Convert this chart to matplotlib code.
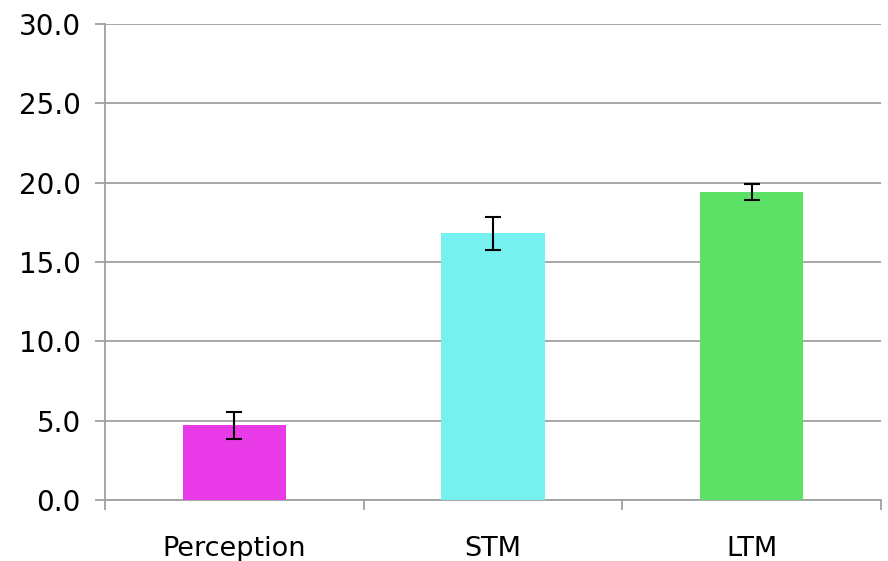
import matplotlib
matplotlib.use("Agg")
import matplotlib.pyplot as plt
import numpy as np

categories = ["Perception", "STM", "LTM"]
means = [4.7, 16.8, 19.4]
errors = [0.85, 1.05, 0.5]
colors = ["#E83AE6", "#77F0F0", "#5CE066"]
yticks = [0, 5, 10, 15, 20, 25, 30]

grid_col = "#A0A0A0"

fig = plt.figure(figsize=(8.88, 5.61), dpi=100)
ax = fig.add_axes([105 / 888, 1 - 500 / 561, (881 - 105) / 888, (500 - 24) / 561])

x = np.arange(len(categories))
ax.bar(x, means, width=0.4, color=colors, zorder=3)
ax.errorbar(x, means, yerr=errors, fmt="none", ecolor="black",
            elinewidth=1.5, capsize=5.5, capthick=1.5, zorder=4)

ax.set_xlim(-0.5, len(categories) - 0.5)
ax.set_ylim(0, 30)
ax.set_yticks(yticks)
ax.set_yticklabels([f"{v:.1f}" for v in yticks], fontsize=20)
ax.yaxis.grid(True, color=grid_col, linewidth=1.3, zorder=0)
ax.set_axisbelow(True)

ax.set_xticks(x)
ax.set_xticklabels(categories, fontsize=19.5)
ax.set_xticks(np.arange(-0.5, len(categories)), minor=True)
ax.tick_params(axis="x", which="major", length=0, pad=26)
ax.tick_params(axis="x", which="minor", length=7.5, width=1.3, color=grid_col, direction="out")
ax.tick_params(axis="y", length=7.5, width=1.3, color=grid_col, pad=10)

for side in ["top", "right"]:
    ax.spines[side].set_visible(False)
for side in ["left", "bottom"]:
    ax.spines[side].set_color(grid_col)
    ax.spines[side].set_linewidth(1.3)

fig.savefig("out.png", dpi=100)
